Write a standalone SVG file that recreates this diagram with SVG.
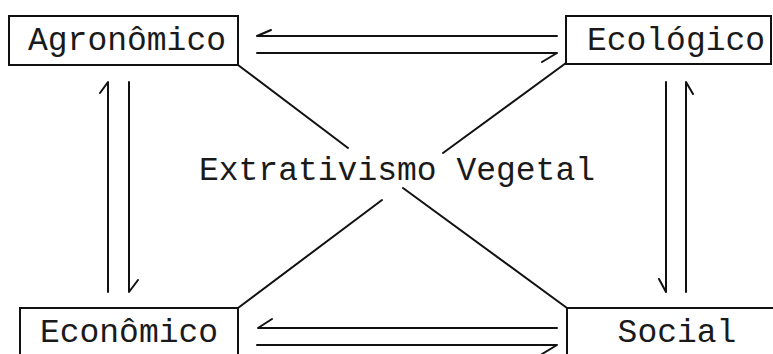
<svg xmlns="http://www.w3.org/2000/svg" width="773" height="354" viewBox="0 0 773 354">
<style>
.box{fill:#fff;stroke:#111;stroke-width:2}
.lbl{font-family:"Courier New","Nimbus Mono PS","FreeMono","Liberation Mono",monospace;font-size:33px;fill:#1a1a1a;text-anchor:middle}
.con{fill:none;stroke:#111;stroke-width:2;stroke-linecap:round;stroke-linejoin:round}
</style>
<rect width="773" height="354" fill="#fff"/>
<g id="connectors">
<path class="con" d="M557,36 H257 l14,-6"/>
<path class="con" d="M257,53 H557 l-15,9"/>
<path class="con" d="M557,328 H258 l14,-9"/>
<path class="con" d="M257,345 H557 l-15,9"/>
<path class="con" d="M108,292 V82 l-8,11"/>
<path class="con" d="M129,82 V292 l9,-12"/>
<path class="con" d="M666,82 V292 l-7,-13"/>
<path class="con" d="M686,292 V82 l7,12"/>
<path class="con" d="M238,65 L348,148"/>
<path class="con" d="M566,63 L443,153"/>
<path class="con" d="M382,200 L238,308"/>
<path class="con" d="M403,188 L567,308"/>
</g>
<g id="agronomico">
<rect class="box" x="9" y="16" width="229" height="49"/>
<text class="lbl" x="127" y="50">Agronômico</text>
</g>
<g id="ecologico">
<rect class="box" x="566" y="16" width="205" height="48"/>
<text class="lbl" x="676" y="50">Ecológico</text>
</g>
<g id="economico">
<rect class="box" x="20" y="308" width="218" height="60"/>
<text class="lbl" x="129" y="342">Econômico</text>
</g>
<g id="social">
<rect class="box" x="567" y="308" width="220" height="60"/>
<text class="lbl" x="677" y="342">Social</text>
</g>
<g id="center">
<text class="lbl" x="397" y="180">Extrativismo Vegetal</text>
</g>
</svg>
